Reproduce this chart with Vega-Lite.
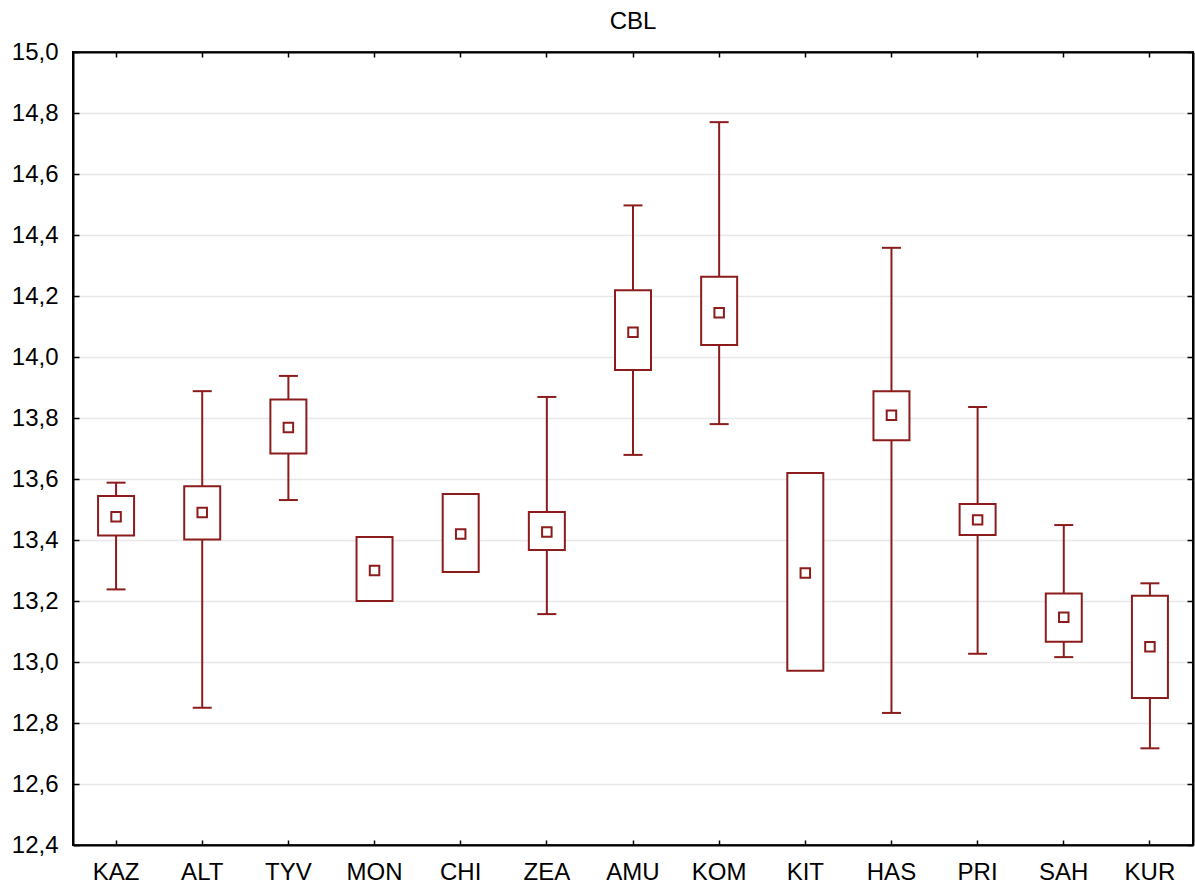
{
  "$schema": "https://vega.github.io/schema/vega-lite/v6.json",
  "autosize": "none",
  "width": 1120,
  "height": 793,
  "padding": {"left": 73, "top": 52, "right": 2, "bottom": 39},
  "background": "white",
  "title": {
    "text": "CBL",
    "font": "Liberation Sans",
    "fontSize": 24,
    "fontWeight": "normal",
    "color": "#000000",
    "anchor": "middle",
    "offset": 6
  },
  "data": {
    "values": [
      {"group": "KAZ", "mean": 13.476, "boxLo": 13.415, "boxHi": 13.544, "whiskLo": 13.238, "whiskHi": 13.588},
      {"group": "ALT", "mean": 13.490, "boxLo": 13.402, "boxHi": 13.576, "whiskLo": 12.850, "whiskHi": 13.888},
      {"group": "TYV", "mean": 13.769, "boxLo": 13.684, "boxHi": 13.861, "whiskLo": 13.531, "whiskHi": 13.938},
      {"group": "MON", "mean": 13.300, "boxLo": 13.200, "boxHi": 13.410, "whiskLo": null, "whiskHi": null},
      {"group": "CHI", "mean": 13.420, "boxLo": 13.295, "boxHi": 13.551, "whiskLo": null, "whiskHi": null},
      {"group": "ZEA", "mean": 13.426, "boxLo": 13.367, "boxHi": 13.492, "whiskLo": 13.157, "whiskHi": 13.869},
      {"group": "AMU", "mean": 14.081, "boxLo": 13.957, "boxHi": 14.219, "whiskLo": 13.679, "whiskHi": 14.497},
      {"group": "KOM", "mean": 14.145, "boxLo": 14.039, "boxHi": 14.263, "whiskLo": 13.780, "whiskHi": 14.770},
      {"group": "KIT", "mean": 13.292, "boxLo": 12.971, "boxHi": 13.620, "whiskLo": null, "whiskHi": null},
      {"group": "HAS", "mean": 13.809, "boxLo": 13.727, "boxHi": 13.888, "whiskLo": 12.833, "whiskHi": 14.358},
      {"group": "PRI", "mean": 13.466, "boxLo": 13.416, "boxHi": 13.518, "whiskLo": 13.027, "whiskHi": 13.836},
      {"group": "SAH", "mean": 13.147, "boxLo": 13.066, "boxHi": 13.225, "whiskLo": 13.016, "whiskHi": 13.449},
      {"group": "KUR", "mean": 13.050, "boxLo": 12.882, "boxHi": 13.217, "whiskLo": 12.717, "whiskHi": 13.258}
    ]
  },
  "layer": [
    {
      "transform": [{"filter": "datum.whiskLo != null"}],
      "mark": {"type": "rule", "color": "#8C1C1C", "strokeWidth": 2},
      "encoding": {
        "x": {
          "field": "group",
          "type": "nominal",
          "scale": {"domain": ["KAZ", "ALT", "TYV", "MON", "CHI", "ZEA", "AMU", "KOM", "KIT", "HAS", "PRI", "SAH", "KUR"], "paddingInner": 0, "paddingOuter": 0},
          "axis": {
            "orient": "bottom",
            "title": null,
            "labelAngle": 0,
            "labelFont": "Liberation Sans",
            "labelFontSize": 24,
            "labelFontWeight": "normal",
            "labelColor": "#000000",
            "labelPadding": 20,
            "tickSize": -5,
            "tickColor": "#000000",
            "tickWidth": 1.5,
            "domainColor": "#000000",
            "domainWidth": 2,
            "grid": false
          }
        },
        "y": {
          "field": "whiskLo",
          "type": "quantitative",
          "scale": {"domain": [12.4, 15.0], "nice": false, "zero": false},
          "axis": {
            "orient": "left",
            "title": null,
            "values": [12.4, 12.6, 12.8, 13.0, 13.2, 13.4, 13.6, 13.8, 14.0, 14.2, 14.4, 14.6, 14.8, 15.0],
            "labelExpr": "replace(format(datum.value, '.1f'), '.', ',')",
            "labelFont": "Liberation Sans",
            "labelFontSize": 24,
            "labelFontWeight": "normal",
            "labelColor": "#000000",
            "labelPadding": 21,
            "tickSize": -6,
            "tickColor": "#000000",
            "tickWidth": 1.5,
            "domainColor": "#000000",
            "domainWidth": 2,
            "grid": true,
            "gridColor": "#e8e8e8",
            "gridWidth": 1.5
          }
        },
        "y2": {"field": "boxLo"}
      }
    },
    {
      "transform": [{"filter": "datum.whiskHi != null"}],
      "mark": {"type": "rule", "color": "#8C1C1C", "strokeWidth": 2},
      "encoding": {
        "x": {"field": "group", "type": "nominal", "axis": null},
        "y": {"field": "boxHi", "type": "quantitative", "scale": {"domain": [12.4, 15.0], "nice": false, "zero": false}, "axis": null},
        "y2": {"field": "whiskHi"}
      }
    },
    {
      "transform": [{"filter": "datum.whiskLo != null"}],
      "mark": {"type": "tick", "color": "#8C1C1C", "size": 19, "thickness": 2, "orient": "horizontal", "opacity": 1},
      "encoding": {
        "x": {"field": "group", "type": "nominal", "axis": null},
        "y": {"field": "whiskLo", "type": "quantitative", "scale": {"domain": [12.4, 15.0], "nice": false, "zero": false}, "axis": null}
      }
    },
    {
      "transform": [{"filter": "datum.whiskHi != null"}],
      "mark": {"type": "tick", "color": "#8C1C1C", "size": 19, "thickness": 2, "orient": "horizontal", "opacity": 1},
      "encoding": {
        "x": {"field": "group", "type": "nominal", "axis": null},
        "y": {"field": "whiskHi", "type": "quantitative", "scale": {"domain": [12.4, 15.0], "nice": false, "zero": false}, "axis": null}
      }
    },
    {
      "mark": {"type": "bar", "width": 36, "fill": "white", "stroke": "#8C1C1C", "strokeWidth": 2, "opacity": 1},
      "encoding": {
        "x": {
          "field": "group",
          "type": "nominal",
          "scale": {"domain": ["KAZ", "ALT", "TYV", "MON", "CHI", "ZEA", "AMU", "KOM", "KIT", "HAS", "PRI", "SAH", "KUR"], "paddingInner": 0, "paddingOuter": 0},
          "axis": {
            "orient": "top",
            "title": null,
            "labels": false,
            "tickSize": -5,
            "tickColor": "#000000",
            "tickWidth": 1.5,
            "domainColor": "#000000",
            "domainWidth": 2,
            "grid": false
          }
        },
        "y": {
          "field": "boxLo",
          "type": "quantitative",
          "scale": {"domain": [12.4, 15.0], "nice": false, "zero": false},
          "axis": {
            "orient": "right",
            "title": null,
            "labels": false,
            "values": [12.4, 12.6, 12.8, 13.0, 13.2, 13.4, 13.6, 13.8, 14.0, 14.2, 14.4, 14.6, 14.8, 15.0],
            "tickSize": -6,
            "tickColor": "#000000",
            "tickWidth": 1.5,
            "domainColor": "#000000",
            "domainWidth": 2,
            "grid": false
          }
        },
        "y2": {"field": "boxHi"}
      }
    },
    {
      "mark": {"type": "point", "shape": "square", "size": 90, "filled": true, "fill": "white", "stroke": "#8C1C1C", "strokeWidth": 2, "opacity": 1},
      "encoding": {
        "x": {"field": "group", "type": "nominal", "axis": null},
        "y": {"field": "mean", "type": "quantitative", "scale": {"domain": [12.4, 15.0], "nice": false, "zero": false}, "axis": null}
      }
    }
  ],
  "resolve": {"axis": {"x": "independent", "y": "independent"}},
  "config": {
    "view": {"stroke": "#000000", "strokeWidth": 2},
    "font": "Liberation Sans"
  }
}
